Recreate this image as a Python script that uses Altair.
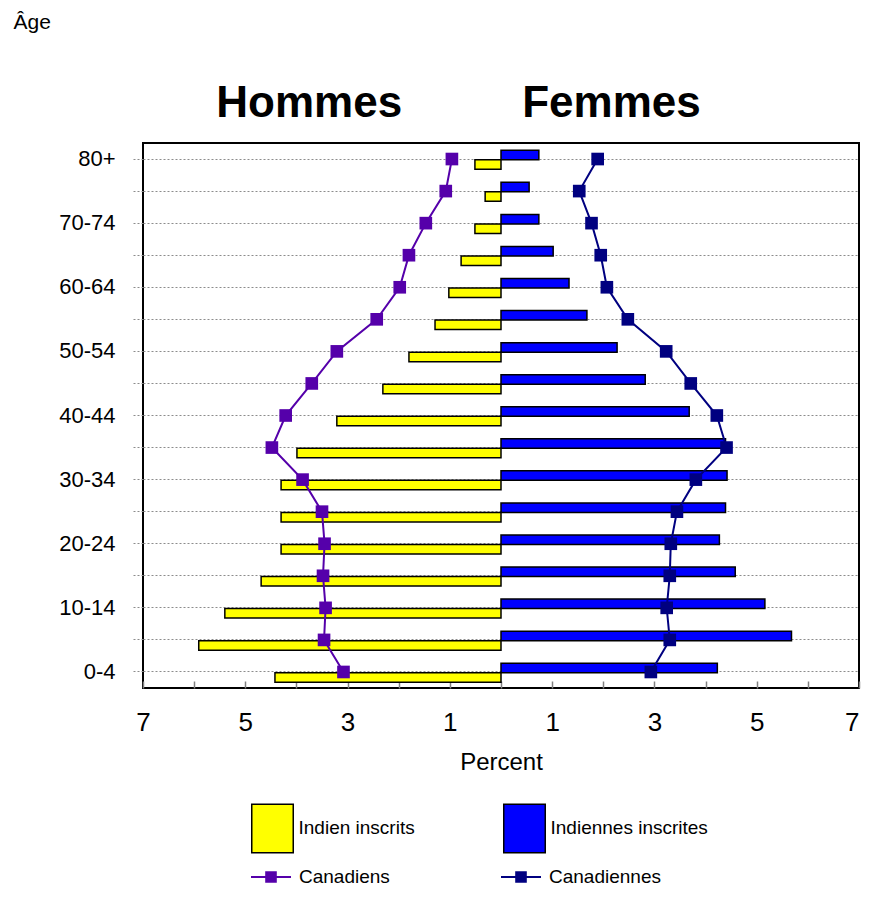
import json
import altair as alt
import pandas as pd

# ---------------- data (bottom row 0-4 up to 80+) ----------------
ages = ["0-4", "5-9", "10-14", "15-19", "20-24", "25-29", "30-34", "35-39",
        "40-44", "45-49", "50-54", "55-59", "60-64", "65-69", "70-74", "75-79", "80+"]
male_registered = [4.42, 5.91, 5.40, 4.69, 4.30, 4.30, 4.30, 3.99, 3.21, 2.31,
                   1.80, 1.29, 1.02, 0.78, 0.51, 0.31, 0.51]
female_registered = [4.23, 5.68, 5.16, 4.58, 4.27, 4.39, 4.42, 4.39, 3.68, 2.82,
                     2.27, 1.68, 1.33, 1.02, 0.74, 0.55, 0.74]
male_canada = [3.08, 3.46, 3.43, 3.48, 3.45, 3.50, 3.88, 4.48, 4.21, 3.70,
               3.21, 2.43, 1.98, 1.80, 1.47, 1.08, 0.96]
female_canada = [2.93, 3.30, 3.24, 3.30, 3.32, 3.44, 3.81, 4.41, 4.22, 3.71,
                 3.23, 2.48, 2.07, 1.95, 1.77, 1.53, 1.89]

shown_age_labels = ["80+", "70-74", "60-64", "50-54", "40-44", "30-34", "20-24", "10-14", "0-4"]
bar_series = ["Indien inscrits", "Indiennes inscrites"]
bar_colors = ["#FFFF00", "#0000FF"]
line_series = ["Canadiens", "Canadiennes"]
line_colors = ["#5500AA", "#000080"]
x_ticks = list(range(-7, 8))
panel_titles = ["Hommes", "Femmes"]
panel_title_x = [-3.75, 2.16]

age_order = ages[::-1]
FONT = "Liberation Sans"

# ---------------- tables ----------------
male_bars = pd.DataFrame({"age": ages, "x": [-v for v in male_registered], "x2": 0,
                          "series": bar_series[0]})
female_bars = pd.DataFrame({"age": ages, "x": female_registered, "x2": 0,
                            "series": bar_series[1]})
lines_df = pd.concat([
    pd.DataFrame({"age": ages, "x": [-v for v in male_canada], "series": line_series[0],
                  "idx": list(range(len(ages)))}),
    pd.DataFrame({"age": ages, "x": female_canada, "series": line_series[1],
                  "idx": list(range(len(ages)))}),
])
titles_df = pd.DataFrame({"label": panel_titles, "x": panel_title_x})

# ---------------- axes / scales ----------------
x_scale = alt.Scale(domain=[-7, 7], nice=False, zero=False)
x_axis = alt.Axis(
    values=x_ticks,
    labelExpr="abs(datum.value) % 2 == 1 ? format(abs(datum.value), 'd') : ''",
    labelAlign={"condition": {"test": "datum.value == 7", "value": "right"}, "value": "center"},
    offset=-7, tickSize=7, tickColor="#808080", tickWidth=1.5,
    domain=False, grid=False, labelFlush=False, labelOverlap=False,
    labelFontSize=26, labelPadding=21, labelColor="black", labelFont=FONT,
    title="Percent", titleFontSize=24, titleFontWeight="normal", titleColor="black",
    titleFont=FONT, titlePadding=15,
)
y_scale = alt.Scale(domain=age_order, paddingInner=0, paddingOuter=0)
label_expr = "indexof(" + json.dumps(shown_age_labels) + ", datum.value) >= 0 ? datum.value : ''"
y_axis = alt.Axis(
    title="Âge", titleAngle=0, titleX=-130, titleY=-115, titleAlign="left",
    titleBaseline="alphabetic", titleFontSize=21, titleFontWeight="normal",
    titleColor="black", titleFont=FONT,
    labelExpr=label_expr, labelFontSize=22, labelPadding=16, labelColor="black",
    labelFont=FONT, bandPosition=0.5,
    tickSize=12, tickColor="#8c8c8c", tickDash=[2, 2], tickWidth=1,
    domain=False, grid=True, gridColor="#8c8c8c", gridDash=[2, 2], gridWidth=1,
)

X = alt.X("x:Q", scale=x_scale, axis=x_axis)
Y = alt.Y("age:N", sort=age_order, scale=y_scale, axis=y_axis)

bar_legend = alt.Legend(
    title=None, orient="none", legendX=103.5, legendY=659, direction="horizontal",
    columns=2, columnPadding=83, padding=0,
    symbolType="M-0.83,-0.97H0.83V0.97H-0.83Z", symbolSize=2500,
    symbolStrokeColor="black", symbolStrokeWidth=1.5, symbolOpacity=1,
    labelFontSize=19, labelOffset=0, labelColor="black", labelFont=FONT,
)
bar_fill = alt.Fill("series:N", scale=alt.Scale(domain=bar_series, range=bar_colors),
                    legend=bar_legend)

line_legend = alt.Legend(
    title=None, orient="none", legendX=107, legendY=713, direction="horizontal",
    columns=2, columnPadding=107, padding=0,
    symbolType="M-1,0H1M-0.24,-0.24H0.24V0.24H-0.24Z", symbolSize=1600,
    symbolStrokeWidth=2, symbolOpacity=1,
    labelFontSize=19, labelOffset=7, labelColor="black", labelFont=FONT,
)
line_color = alt.Color("series:N", scale=alt.Scale(domain=line_series, range=line_colors),
                       legend=line_legend)

male_layer = alt.Chart(male_bars).mark_bar(
    size=9.5, yOffset=5.5, stroke="black", strokeWidth=1.5, opacity=1
).encode(x=X, x2="x2", y=Y, fill=bar_fill)

female_layer = alt.Chart(female_bars).mark_bar(
    size=9.5, yOffset=-4, stroke="black", strokeWidth=1.5, opacity=1
).encode(x=X, x2="x2", y=Y, fill=bar_fill)

line_layer = alt.Chart(lines_df).mark_line(strokeWidth=2).encode(
    x=X, y=Y, color=line_color, order=alt.Order("idx:Q"))

point_layer = alt.Chart(lines_df).mark_square(size=160, opacity=1, filled=True).encode(
    x=X, y=Y, color=line_color)

title_layer = alt.Chart(titles_df).mark_text(
    fontSize=44, fontWeight="bold", baseline="alphabetic", align="center",
    color="black", font=FONT
).encode(x=X, y=alt.value(-26), text="label:N")

chart = alt.layer(
    female_layer, male_layer, line_layer, point_layer, title_layer
).properties(
    width=716, height=545,
    padding={"left": 135, "top": 135, "right": 2, "bottom": 200},
    autosize=alt.AutoSizeParams(type="none"),
    background="white",
).configure(font=FONT).configure_view(stroke="black", strokeWidth=2)

chart.save("out.html", embed_options={"renderer": "svg", "actions": False})
